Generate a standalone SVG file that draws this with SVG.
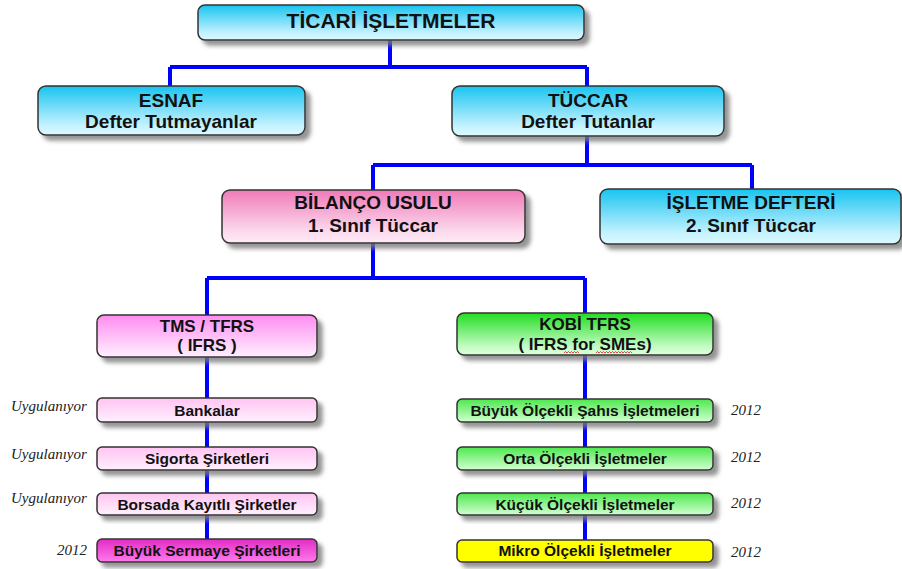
<svg xmlns="http://www.w3.org/2000/svg" width="902" height="569" viewBox="0 0 902 569">
<defs>
<filter id="sh" x="-10%" y="-20%" width="125%" height="160%">
<feDropShadow dx="5" dy="5" stdDeviation="2" flood-color="#7a7a7a" flood-opacity="0.8"/>
</filter>
<linearGradient id="cyan" x1="0" y1="0" x2="0" y2="1">
<stop offset="0" stop-color="#18c4f0"/><stop offset="0.8" stop-color="#c4f2ff"/><stop offset="1" stop-color="#dcf9ff"/>
</linearGradient>
<linearGradient id="pink" x1="0" y1="0" x2="0" y2="1">
<stop offset="0" stop-color="#f07ab8"/><stop offset="0.8" stop-color="#fcdcee"/><stop offset="1" stop-color="#ffeaf6"/>
</linearGradient>
<linearGradient id="mag" x1="0" y1="0" x2="0" y2="1">
<stop offset="0" stop-color="#ff8cf0"/><stop offset="0.8" stop-color="#ffdcfc"/><stop offset="1" stop-color="#ffeeff"/>
</linearGradient>
<linearGradient id="lpink" x1="0" y1="0" x2="0" y2="1">
<stop offset="0" stop-color="#ffc4f2"/><stop offset="1" stop-color="#fff0fd"/>
</linearGradient>
<linearGradient id="hot" x1="0" y1="0" x2="0" y2="1">
<stop offset="0" stop-color="#e22cc6"/><stop offset="1" stop-color="#ff7aec"/>
</linearGradient>
<linearGradient id="green" x1="0" y1="0" x2="0" y2="1">
<stop offset="0" stop-color="#22dd22"/><stop offset="0.8" stop-color="#c4fcc4"/><stop offset="1" stop-color="#dcffdc"/>
</linearGradient>
<linearGradient id="lgreen" x1="0" y1="0" x2="0" y2="1">
<stop offset="0" stop-color="#4ee84e"/><stop offset="1" stop-color="#d2ffd2"/>
</linearGradient>
</defs>
<style>
.b{stroke:#333;stroke-width:1.5;filter:url(#sh)}
.t{font-family:"Liberation Sans",Arial,sans-serif;font-weight:bold;fill:#111;text-anchor:middle}
.f21{font-size:21px}.f19{font-size:19px}.f17{font-size:17px}.f15{font-size:15.5px}
.n{font-family:"Liberation Serif","Times New Roman",serif;font-style:italic;font-size:15px;fill:#222}
.c{stroke:#0000ff;stroke-width:4;fill:none}
.w{stroke:#e02020;stroke-width:0.8;fill:none}
</style>
<g id="connectors">
<path class="c" d="M390,40V67 M170,67H587 M170,67V86 M587,67V86 M587,136V165 M373,165H752 M373,165V190 M752,165V189 M373,243V278 M207,278H585 M207,278V315 M585,278V313 M207,357V540 M585,355V540"/>
</g>
<g id="ticari"><rect class="b" x="198" y="5" width="386" height="35" rx="7" fill="url(#cyan)"/><text class="t f21" x="391" y="28">TİCARİ İŞLETMELER</text></g>
<g id="esnaf"><rect class="b" x="38" y="86" width="267" height="49" rx="8" fill="url(#cyan)"/><text class="t f19" x="171" y="107">ESNAF</text><text class="t f19" x="171" y="128">Defter Tutmayanlar</text></g>
<g id="tuccar"><rect class="b" x="452" y="86" width="272" height="50" rx="8" fill="url(#cyan)"/><text class="t f19" x="588" y="107">TÜCCAR</text><text class="t f19" x="588" y="128">Defter Tutanlar</text></g>
<g id="bilanco"><rect class="b" x="222" y="190" width="303" height="53" rx="8" fill="url(#pink)"/><text class="t f19" x="373" y="209">BİLANÇO USULU</text><text class="t f19" x="373" y="232">1. Sınıf Tüccar</text></g>
<g id="isletme"><rect class="b" x="600" y="189" width="301" height="55" rx="8" fill="url(#cyan)"/><text class="t f19" x="751" y="209">İŞLETME DEFTERİ</text><text class="t f19" x="751" y="232">2. Sınıf Tüccar</text></g>
<g id="tms"><rect class="b" x="97" y="315" width="220" height="42" rx="7" fill="url(#mag)"/><text class="t f17" x="207" y="332">TMS / TFRS</text><text class="t f17" x="207" y="351">( IFRS )</text></g>
<g id="kobi"><rect class="b" x="457" y="313" width="256" height="42" rx="7" fill="url(#green)"/><text class="t f17" x="585" y="330">KOBİ TFRS</text><text class="t f17" x="585" y="350">( IFRS for SMEs)</text>
<path class="w" d="M564,353l1.5,-1.5l1.5,1.5l1.5,-1.5l1.5,1.5l1.5,-1.5l1.5,1.5l1.5,-1.5l1.5,1.5l1.5,-1.5l1.5,1.5 M596,353l1.5,-1.5l1.5,1.5l1.5,-1.5l1.5,1.5l1.5,-1.5l1.5,1.5l1.5,-1.5l1.5,1.5l1.5,-1.5l1.5,1.5l1.5,-1.5l1.5,1.5l1.5,-1.5l1.5,1.5l1.5,-1.5l1.5,1.5l1.5,-1.5l1.5,1.5l1.5,-1.5l1.5,1.5l1.5,-1.5l1.5,1.5l1.5,-1.5l1.5,1.5"/></g>
<g id="bankalar"><rect class="b" x="97" y="398" width="220" height="24" rx="5" fill="url(#lpink)"/><text class="t f15" x="207" y="416">Bankalar</text></g>
<g id="sigorta"><rect class="b" x="97" y="447" width="220" height="23" rx="5" fill="url(#lpink)"/><text class="t f15" x="207" y="464">Sigorta Şirketleri</text></g>
<g id="borsada"><rect class="b" x="97" y="493" width="220" height="22" rx="5" fill="url(#lpink)"/><text class="t f15" x="207" y="510">Borsada Kayıtlı Şirketler</text></g>
<g id="sermaye"><rect class="b" x="97" y="539" width="220" height="23" rx="5" fill="url(#hot)"/><text class="t f15" x="207" y="556">Büyük Sermaye Şirketleri</text></g>
<g id="buyuk"><rect class="b" x="457" y="399" width="256" height="23" rx="5" fill="url(#lgreen)"/><text class="t f15" x="585" y="416">Büyük Ölçekli Şahıs İşletmeleri</text></g>
<g id="orta"><rect class="b" x="457" y="447" width="256" height="23" rx="5" fill="url(#lgreen)"/><text class="t f15" x="585" y="464">Orta Ölçekli İşletmeler</text></g>
<g id="kucuk"><rect class="b" x="457" y="493" width="256" height="22" rx="5" fill="url(#lgreen)"/><text class="t f15" x="585" y="510">Küçük Ölçekli İşletmeler</text></g>
<g id="mikro"><rect class="b" x="457" y="540" width="256" height="22" rx="5" fill="#ffff00"/><text class="t f15" x="585" y="556">Mikro Ölçekli İşletmeler</text></g>
<g id="notes">
<text class="n" x="11" y="411">Uygulanıyor</text>
<text class="n" x="11" y="459">Uygulanıyor</text>
<text class="n" x="11" y="503">Uygulanıyor</text>
<text class="n" x="57" y="555">2012</text>
<text class="n" x="731" y="415">2012</text>
<text class="n" x="731" y="462">2012</text>
<text class="n" x="731" y="508">2012</text>
<text class="n" x="731" y="557">2012</text>
</g>
</svg>
